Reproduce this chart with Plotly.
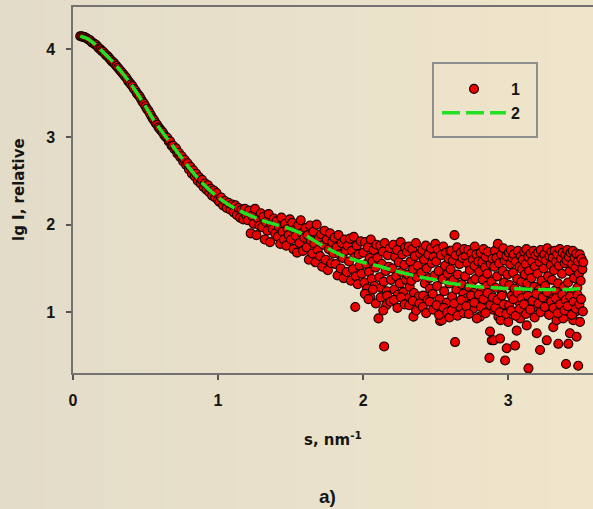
import plotly.graph_objects as go

# ---- model curve (2) ----
s_fit = [0.05, 0.10, 0.15, 0.20, 0.25, 0.30, 0.35, 0.40, 0.45, 0.50,
         0.55, 0.60, 0.65, 0.70, 0.75, 0.80, 0.85, 0.90, 0.95, 1.00,
         1.10, 1.20, 1.30, 1.40, 1.50, 1.60, 1.70, 1.80, 1.90, 2.00,
         2.10, 2.20, 2.30, 2.40, 2.50, 2.60, 2.70, 2.80, 2.90, 3.00,
         3.10, 3.20, 3.30, 3.40, 3.52]
lgI_fit = [4.15, 4.12, 4.06, 3.98, 3.90, 3.81, 3.71, 3.60, 3.48, 3.35,
           3.21, 3.09, 2.98, 2.87, 2.76, 2.65, 2.55, 2.46, 2.38, 2.31,
           2.20, 2.12, 2.05, 2.00, 1.95, 1.88, 1.78, 1.69, 1.62, 1.57,
           1.53, 1.48, 1.44, 1.40, 1.37, 1.33, 1.31, 1.29, 1.28, 1.27,
           1.265, 1.26, 1.26, 1.26, 1.27]

# ---- experimental points (1) ----
s_low = [0.05, 0.06, 0.07, 0.08, 0.09, 0.10, 0.11, 0.12, 0.13, 0.14,
         0.15, 0.16, 0.17, 0.18, 0.19, 0.20, 0.21, 0.22, 0.23, 0.24,
         0.25, 0.26, 0.27, 0.28, 0.29, 0.30, 0.31, 0.32, 0.33, 0.34,
         0.35, 0.36, 0.37, 0.38, 0.39, 0.40, 0.41, 0.42, 0.43, 0.44,
         0.45, 0.46, 0.47, 0.48, 0.49, 0.50, 0.51, 0.52, 0.53, 0.54,
         0.55, 0.56, 0.57, 0.58, 0.59, 0.60, 0.61, 0.62, 0.63, 0.64,
         0.65, 0.66, 0.67, 0.68, 0.69, 0.70, 0.71, 0.72, 0.73, 0.74,
         0.75, 0.76, 0.77, 0.78, 0.79, 0.80, 0.81, 0.82, 0.83, 0.84,
         0.85, 0.86, 0.87, 0.88, 0.89, 0.90, 0.91, 0.92, 0.93, 0.94,
         0.95, 0.96, 0.97, 0.98, 0.99, 1.00]
lgI_low = [4.15, 4.15, 4.14, 4.14, 4.13, 4.12, 4.11, 4.10, 4.08, 4.07,
           4.06, 4.05, 4.03, 4.01, 4.00, 3.98, 3.97, 3.95, 3.93, 3.92,
           3.90, 3.88, 3.86, 3.85, 3.83, 3.81, 3.79, 3.77, 3.75, 3.73,
           3.71, 3.69, 3.67, 3.64, 3.62, 3.60, 3.58, 3.55, 3.53, 3.50,
           3.48, 3.46, 3.43, 3.40, 3.38, 3.35, 3.32, 3.30, 3.27, 3.24,
           3.21, 3.19, 3.16, 3.14, 3.11, 3.09, 3.07, 3.05, 3.02, 3.00,
           2.99, 2.95, 2.95, 2.90, 2.90, 2.86, 2.87, 2.81, 2.82, 2.77,
           2.78, 2.72, 2.74, 2.68, 2.70, 2.63, 2.66, 2.58, 2.62, 2.55,
           2.58, 2.50, 2.54, 2.47, 2.51, 2.43, 2.47, 2.40, 2.45, 2.37,
           2.41, 2.33, 2.39, 2.31, 2.36, 2.28]

s_mid = [1.010, 1.022, 1.035, 1.047, 1.060, 1.072, 1.085, 1.097,
         1.108, 1.119, 1.130, 1.141, 1.152, 1.163, 1.174, 1.185, 1.196,
         1.205, 1.215, 1.225, 1.235, 1.245, 1.255, 1.265, 1.275, 1.285, 1.295,
         1.304, 1.313, 1.322, 1.331, 1.340, 1.349, 1.358, 1.367, 1.376, 1.385, 1.394,
         1.404, 1.412, 1.420, 1.429, 1.437, 1.445, 1.454, 1.462, 1.470, 1.479, 1.487, 1.495,
         1.503, 1.511, 1.520, 1.528, 1.536, 1.545, 1.553, 1.561, 1.570, 1.578, 1.586, 1.595,
         1.603, 1.611, 1.618, 1.626, 1.634, 1.641, 1.649, 1.657, 1.664, 1.672, 1.680, 1.687, 1.695,
         1.703, 1.711, 1.718, 1.726, 1.734, 1.741, 1.749, 1.757, 1.764, 1.772, 1.780, 1.787, 1.795,
         1.803, 1.810, 1.817, 1.824, 1.831, 1.838, 1.845, 1.852, 1.859, 1.866, 1.873, 1.880, 1.887, 1.894,
         1.903, 1.910, 1.916, 1.923, 1.930, 1.936, 1.943, 1.946, 1.950, 1.956, 1.963, 1.970, 1.976, 1.983, 1.990]
lgI_mid = [2.26, 2.31, 2.22, 2.27, 2.19, 2.25, 2.17, 2.23,
           2.14, 2.22, 2.11, 2.19, 2.08, 2.17, 2.06, 2.18, 2.10,
           2.05, 2.16, 1.90, 2.10, 2.01, 2.18, 1.88, 2.07, 1.99, 2.13,
           1.97, 2.09, 1.83, 2.03, 1.93, 2.12, 1.80, 2.01, 1.95, 2.07, 1.90,
           2.04, 1.86, 1.97, 1.78, 2.08, 1.92, 1.83, 2.01, 1.76, 1.95, 1.88, 2.06,
           1.83, 2.02, 1.72, 1.94, 1.87, 1.68, 1.99, 1.79, 2.05, 1.90, 1.70, 1.85,
           1.96, 1.74, 1.88, 1.60, 1.99, 1.82, 1.67, 1.92, 1.78, 1.57, 2.00, 1.71, 1.85,
           1.64, 1.89, 1.52, 1.77, 1.93, 1.60, 1.83, 1.48, 1.72, 1.90, 1.56, 1.80, 1.67,
           1.85, 1.55, 1.74, 1.42, 1.88, 1.66, 1.50, 1.79, 1.62, 1.39, 1.83, 1.70, 1.46, 1.76,
           1.58, 1.84, 1.36, 1.70, 1.49, 1.86, 1.63, 1.06, 1.41, 1.76, 1.32, 1.66, 1.53, 1.81, 1.44]

s_high = [2.002, 2.008, 2.014, 2.021, 2.027, 2.033, 2.040, 2.046, 2.050, 2.053, 2.059, 2.065, 2.072, 2.078, 2.085, 2.092,
          2.100, 2.106, 2.112, 2.118, 2.124, 2.130, 2.136, 2.142, 2.145, 2.149, 2.155, 2.160, 2.163, 2.170, 2.177, 2.184, 2.192,
          2.203, 2.209, 2.215, 2.221, 2.228, 2.234, 2.240, 2.246, 2.253, 2.259, 2.265, 2.271, 2.278, 2.284, 2.290, 2.296,
          2.302, 2.308, 2.310, 2.315, 2.321, 2.327, 2.333, 2.339, 2.345, 2.347, 2.351, 2.357, 2.364, 2.370, 2.377, 2.384, 2.392,
          2.402, 2.408, 2.414, 2.420, 2.426, 2.432, 2.438, 2.444, 2.450, 2.456, 2.462, 2.468, 2.474, 2.480, 2.486, 2.492, 2.498,
          2.503, 2.509, 2.515, 2.521, 2.527, 2.531, 2.537, 2.543, 2.548, 2.553, 2.559, 2.565, 2.571, 2.577, 2.583, 2.589, 2.594, 2.599,
          2.603, 2.608, 2.614, 2.619, 2.625, 2.630, 2.634, 2.638, 2.643, 2.648, 2.653, 2.658, 2.664, 2.669, 2.674, 2.680, 2.685, 2.691, 2.697,
          2.703, 2.708, 2.714, 2.719, 2.725, 2.730, 2.736, 2.741, 2.747, 2.752, 2.757, 2.760, 2.763, 2.768, 2.770, 2.775, 2.781, 2.787, 2.794,
          2.801, 2.806, 2.811, 2.816, 2.821, 2.826, 2.831, 2.836, 2.841, 2.846, 2.851, 2.856, 2.861, 2.866, 2.871, 2.875, 2.880, 2.885, 2.887, 2.892, 2.897,
          2.900, 2.904, 2.909, 2.914, 2.919, 2.924, 2.929, 2.933, 2.938, 2.944, 2.948, 2.953, 2.958, 2.962, 2.967, 2.972, 2.976, 2.979, 2.984, 2.988, 2.990, 2.995,
          3.000, 3.004, 3.009, 3.014, 3.019, 3.024, 3.029, 3.034, 3.039, 3.044, 3.048, 3.053, 3.059, 3.063, 3.068, 3.073, 3.078, 3.082, 3.087, 3.092, 3.097,
          3.101, 3.106, 3.111, 3.116, 3.121, 3.126, 3.128, 3.133, 3.138, 3.140, 3.145, 3.150, 3.155, 3.160, 3.165, 3.170, 3.175, 3.180, 3.185, 3.190, 3.197,
          3.202, 3.207, 3.212, 3.217, 3.220, 3.225, 3.230, 3.235, 3.240, 3.245, 3.250, 3.255, 3.260, 3.266, 3.270, 3.275, 3.280, 3.285, 3.290, 3.295, 3.299,
          3.303, 3.308, 3.311, 3.316, 3.321, 3.326, 3.331, 3.334, 3.339, 3.344, 3.346, 3.351, 3.356, 3.361, 3.366, 3.371, 3.376, 3.380, 3.385, 3.390, 3.395, 3.399,
          3.403, 3.408, 3.413, 3.415, 3.419, 3.424, 3.426, 3.431, 3.436, 3.441, 3.446, 3.449, 3.454, 3.459, 3.460, 3.465, 3.470, 3.472, 3.477, 3.482, 3.483, 3.488, 3.494, 3.495, 3.500, 3.506, 3.512, 3.518]
lgI_high = [1.68, 1.34, 1.80, 1.55, 1.27, 1.74, 1.46, 1.62, 1.17, 1.83, 1.38, 1.58, 1.71, 1.30, 1.51, 1.77,
            1.62, 0.93, 1.40, 1.76, 1.28, 1.55, 1.69, 1.35, 0.61, 1.79, 1.47, 1.08, 1.24, 1.65, 1.52, 1.73, 1.37,
            1.50, 1.77, 1.26, 1.63, 1.41, 1.71, 1.20, 1.57, 1.33, 1.80, 1.46, 1.66, 1.23, 1.54, 1.74, 1.37,
            1.69, 1.43, 1.16, 1.75, 1.29, 1.58, 1.36, 1.72, 1.49, 0.95, 1.22, 1.64, 1.79, 1.40, 1.53, 1.18, 1.67,
            1.45, 1.71, 1.19, 1.60, 1.33, 1.76, 1.50, 1.14, 1.66, 1.39, 1.27, 1.73, 1.56, 1.21, 1.63, 1.42, 1.78,
            1.58, 1.30, 1.72, 1.47, 1.15, 0.90, 1.65, 0.91, 1.38, 1.75, 1.24, 1.53, 1.68, 1.11, 1.44, 1.61, 1.33, 1.70,
            1.49, 1.70, 1.18, 1.59, 1.37, 1.88, 0.66, 1.65, 1.26, 1.74, 1.43, 1.12, 1.55, 1.06, 1.68, 1.32, 1.62, 1.21, 1.72,
            1.41, 1.64, 1.16, 1.56, 1.71, 1.29, 1.48, 1.09, 1.67, 1.35, 1.60, 1.04, 1.22, 1.53, 1.75, 1.38, 1.66, 1.13, 1.58,
            1.46, 0.95, 1.68, 1.25, 1.57, 1.37, 1.72, 1.10, 1.51, 1.63, 1.30, 1.44, 1.69, 1.18, 0.48, 0.78, 1.55, 1.35, 0.68, 1.61, 1.03,
            0.68, 1.52, 1.70, 1.28, 1.62, 1.41, 1.78, 0.95, 1.56, 0.70, 0.91, 1.66, 1.22, 1.47, 1.73, 1.34, 1.59, 0.45, 1.08, 1.64, 0.59, 1.43,
            0.89, 1.68, 1.31, 1.55, 1.71, 1.19, 1.62, 1.45, 1.66, 1.27, 0.62, 1.58, 0.79, 1.38, 1.70, 1.12, 1.52, 0.93, 1.64, 1.35, 1.49,
            1.60, 1.24, 1.69, 1.43, 1.55, 1.72, 0.85, 1.33, 1.63, 0.36, 1.47, 1.16, 1.67, 1.39, 1.58, 1.05, 1.70, 1.29, 1.52, 1.65, 0.76,
            1.44, 1.68, 1.26, 1.57, 0.57, 1.71, 1.36, 1.62, 1.13, 1.50, 1.66, 1.30, 1.59, 0.68, 1.73, 1.41, 0.98, 1.64, 1.21, 1.54, 1.69,
            1.37, 1.62, 0.83, 1.48, 1.70, 1.25, 1.58, 0.91, 1.66, 1.33, 0.64, 1.53, 1.72, 1.18, 1.61, 1.44, 1.68, 0.93, 1.29, 1.56, 1.65, 0.41,
            1.59, 1.71, 1.34, 0.64, 1.63, 1.47, 0.76, 1.68, 1.22, 1.55, 1.70, 0.91, 1.39, 1.62, 1.00, 1.51, 1.67, 0.72, 1.28, 1.58, 0.39, 1.44, 1.66, 0.89, 1.36, 1.61, 1.49, 1.57]

s_tail = [2.012, 2.037, 2.068, 2.088, 2.121, 2.139, 2.166, 2.188,
          2.212, 2.237, 2.262, 2.287, 2.318, 2.342, 2.366, 2.388,
          2.411, 2.435, 2.459, 2.483, 2.506, 2.524, 2.556, 2.580, 2.596,
          2.611, 2.627, 2.651, 2.677, 2.694,
          2.711, 2.728, 2.744, 2.766, 2.784, 2.798,
          2.813, 2.829, 2.844, 2.858, 2.878, 2.894,
          2.911, 2.926, 2.941, 2.956, 2.970, 2.986,
          3.007, 3.021, 3.036, 3.051, 3.066, 3.080, 3.094,
          3.109, 3.123, 3.136, 3.152, 3.168, 3.183, 3.193,
          3.209, 3.223, 3.238, 3.252, 3.268, 3.283, 3.297,
          3.313, 3.328, 3.342, 3.358, 3.373, 3.388, 3.397,
          3.411, 3.427, 3.439, 3.452, 3.467, 3.479, 3.491, 3.503, 3.515]
lgI_tail = [1.21, 1.15, 1.26, 1.10, 1.17, 1.02, 1.19, 1.12,
            1.14, 1.05, 1.17, 1.09, 1.08, 1.13, 1.02, 1.10,
            1.06, 0.99, 1.12, 1.03, 1.08, 0.97, 1.05, 1.00, 0.94,
            1.02, 1.10, 0.96, 1.14, 0.99,
            1.07, 0.98, 1.19, 1.11, 0.93, 1.20,
            1.06, 1.15, 0.99, 1.22, 1.08, 1.17,
            1.05, 1.14, 1.00, 1.19, 1.09, 0.98,
            1.08, 1.02, 1.15, 0.96, 1.22, 1.04, 1.16,
            1.09, 0.98, 1.19, 1.03, 1.13, 0.94, 1.21,
            1.10, 1.00, 1.17, 1.06, 1.23, 0.97, 1.12,
            1.05, 1.16, 0.99, 1.09, 1.20, 1.02, 1.14,
            1.07, 1.18, 0.97, 1.12, 1.04, 1.20, 1.09, 1.15, 1.01]

s_exp = s_low + s_mid + s_high + s_tail
lgI_exp = lgI_low + lgI_mid + lgI_high + lgI_tail
assert len(s_exp) == len(lgI_exp), (len(s_low), len(lgI_low), len(s_mid), len(lgI_mid),
                                    len(s_high), len(lgI_high), len(s_tail), len(lgI_tail))

legend_names = ["1", "2"]
x_ticks = [0, 1, 2, 3]
y_ticks = [1, 2, 3, 4]

W, H = 593, 509
ML, MR, MT, MB = 73, 0, 7, 136
PW, PH = W - ML - MR, H - MT - MB
X_MAX = 3.585


def px_x(px):
    return (px - ML) / PW


def px_y(py):
    return (H - MB - py) / PH


fig = go.Figure()
fig.add_trace(go.Scatter(
    x=s_exp, y=lgI_exp, mode="markers", name=legend_names[0], legendgroup="a",
    marker=dict(size=9, color="#ec0000", line=dict(color="#160000", width=1.1)),
))
fig.add_trace(go.Scatter(
    x=s_fit, y=lgI_fit, mode="lines", name=legend_names[1], legendgroup="b",
    line=dict(color="#22e022", width=3.5, dash="18px,6px", shape="spline", smoothing=0.8),
))

# warm horizontal gradient behind everything
shapes = []
n_strips = 40
left_rgb, right_rgb = (227, 220, 201), (239, 229, 202)
for i in range(n_strips):
    t = i / (n_strips - 1)
    c = tuple(round(a + (b - a) * t) for a, b in zip(left_rgb, right_rgb))
    shapes.append(dict(
        type="rect", xref="paper", yref="paper", layer="below",
        x0=px_x(W * i / n_strips), x1=px_x(W * (i + 1) / n_strips + 1),
        y0=px_y(H), y1=px_y(0), line=dict(width=0),
        fillcolor="rgb(%d,%d,%d)" % c,
    ))
# legend frame
shapes.append(dict(
    type="rect", xref="paper", yref="paper", layer="above",
    x0=px_x(433), x1=px_x(537), y0=px_y(137), y1=px_y(63),
    line=dict(color="#8e8e8e", width=2), fillcolor="rgba(0,0,0,0)",
))

tick_font = dict(family="Liberation Sans", size=16, color="#151515", weight="bold")
title_font = dict(family="DejaVu Sans", size=15, color="#151515", weight="bold")

fig.update_layout(
    width=W, height=H,
    margin=dict(l=ML, r=MR, t=MT, b=MB, pad=0),
    paper_bgcolor="rgb(233,224,201)",
    plot_bgcolor="rgba(0,0,0,0)",
    shapes=shapes,
    showlegend=True,
    legend=dict(
        x=px_x(437), y=px_y(72), xanchor="left", yanchor="top",
        bgcolor="rgba(0,0,0,0)", borderwidth=0,
        font=dict(family="Liberation Sans", size=16, color="#151515", weight="bold"),
        itemwidth=64, tracegroupgap=4, traceorder="normal",
    ),
    xaxis=dict(
        range=[0, X_MAX],
        tickmode="array", tickvals=x_ticks, ticktext=[str(v) for v in x_ticks],
        ticks="outside", ticklen=5, tickwidth=1.5, tickcolor="#555555",
        showline=True, linecolor="#727272", linewidth=1.5, mirror=True,
        showgrid=False, zeroline=False, tickfont=tick_font, ticklabelstandoff=7,
    ),
    yaxis=dict(
        range=[0.307, 4.483],
        tickmode="array", tickvals=y_ticks, ticktext=[str(v) for v in y_ticks],
        ticks="outside", ticklen=5, tickwidth=1.5, tickcolor="#555555",
        showline=True, linecolor="#727272", linewidth=1.5,
        showgrid=False, zeroline=False, tickfont=tick_font, ticklabelstandoff=8,
    ),
    annotations=[
        dict(text="lg I, relative", xref="paper", yref="paper",
             x=px_x(19), y=px_y(190), textangle=-90, showarrow=False,
             xanchor="center", yanchor="middle", font=title_font),
        dict(text="s, nm<sup>-1</sup>", xref="paper", yref="paper",
             x=px_x(333), y=px_y(439), showarrow=False,
             xanchor="center", yanchor="middle", font=title_font),
        dict(text="a)", xref="paper", yref="paper",
             x=px_x(327), y=px_y(496), showarrow=False,
             xanchor="center", yanchor="middle",
             font=dict(family="Liberation Sans", size=19, color="#151515", weight="bold")),
    ],
)

fig.write_html("out.html")
